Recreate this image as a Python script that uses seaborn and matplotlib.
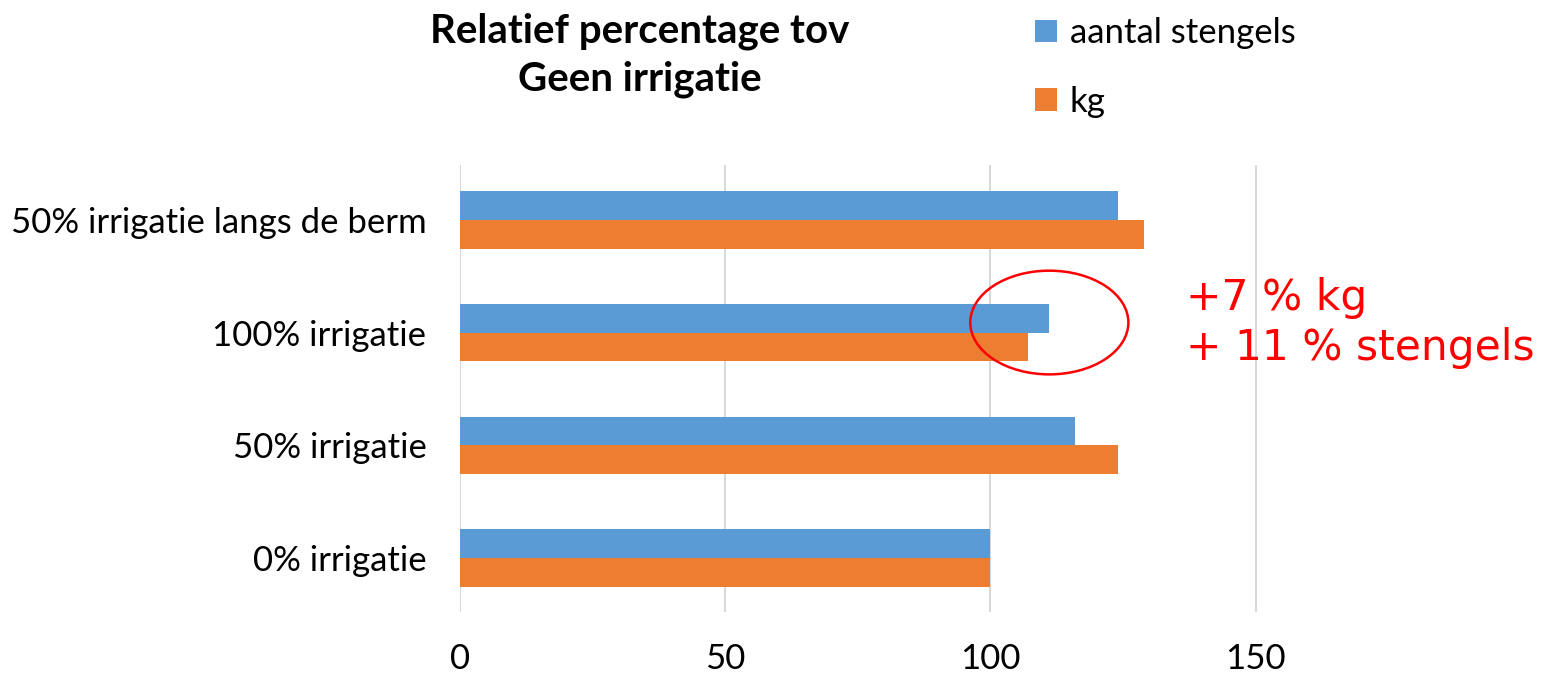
import matplotlib
matplotlib.use("Agg")
import matplotlib.pyplot as plt
from matplotlib.patches import Ellipse
import seaborn as sns
import pandas as pd

categories = ["50% irrigatie langs de berm", "100% irrigatie", "50% irrigatie", "0% irrigatie"]
aantal_stengels = [124, 111, 116, 100]
kg = [129, 107, 124, 100]
series_names = ["aantal stengels", "kg"]
x_ticks = [0, 50, 100, 150]
title = "Relatief percentage tov\nGeen irrigatie"
note_lines = ["+7 % kg", "+ 11 % stengels"]

df = pd.DataFrame({
    "categorie": categories * 2,
    "waarde": aantal_stengels + kg,
    "reeks": [series_names[0]] * len(categories) + [series_names[1]] * len(categories),
})

sns.set_theme(style="white")
plt.rcParams["font.family"] = ["Lato", "DejaVu Sans"]
plt.rcParams["text.color"] = "#000000"

fig = plt.figure(figsize=(15.43, 6.75), dpi=100)
ax = fig.add_axes([0.298, 0.093, 0.674, 0.663])

sns.barplot(data=df, y="categorie", x="waarde", hue="reeks", order=categories,
            hue_order=series_names, palette=["#5B9BD5", "#ED7D31"], orient="h",
            width=0.51, ax=ax, saturation=1, errorbar=None, linewidth=0)

ax.set_xlim(0, 196)
ax.set_ylim(3.48, -0.49)
ax.set_xticks(x_ticks)
ax.set_xticklabels([str(t) for t in x_ticks], fontsize=25)
ax.tick_params(axis="x", pad=22, length=0, labelcolor="#000000")
ax.tick_params(axis="y", pad=24, length=0, labelsize=25, labelcolor="#000000")
ax.set_xlabel("")
ax.set_ylabel("")
for s in ax.spines.values():
    s.set_visible(False)
ax.grid(axis="x", color="#D9D9D9", linewidth=1.5)
ax.set_axisbelow(True)

# legend
handles, labels = ax.get_legend_handles_labels()
ax.legend_.remove()
fig.legend(handles, labels, loc="upper left", bbox_to_anchor=(1004 / 1543, 1 + 14 / 675),
           frameon=False, fontsize=25, handlelength=0.62, handleheight=0.62,
           handletextpad=0.38, labelspacing=1.05, labelcolor="#000000")

fig.text(640 / 1543, 1 - 55 / 675, title, ha="center", va="center", fontsize=29,
         fontweight="bold", linespacing=1.35, color="#000000")

# annotation ellipse and note
ell = Ellipse((111.1, 0.91), width=29.8, height=0.92, fill=False, edgecolor="#FF0000", linewidth=1.8)
ax.add_patch(ell)
fig.text(1186 / 1543, 1 - 298 / 675, note_lines[0], ha="left", va="center", fontsize=30.5,
         color="#FF0000", family="DejaVu Sans")
fig.text(1186 / 1543, 1 - 348 / 675, note_lines[1], ha="left", va="center", fontsize=30.5,
         color="#FF0000", family="DejaVu Sans")

fig.savefig("out.png", dpi=100)
